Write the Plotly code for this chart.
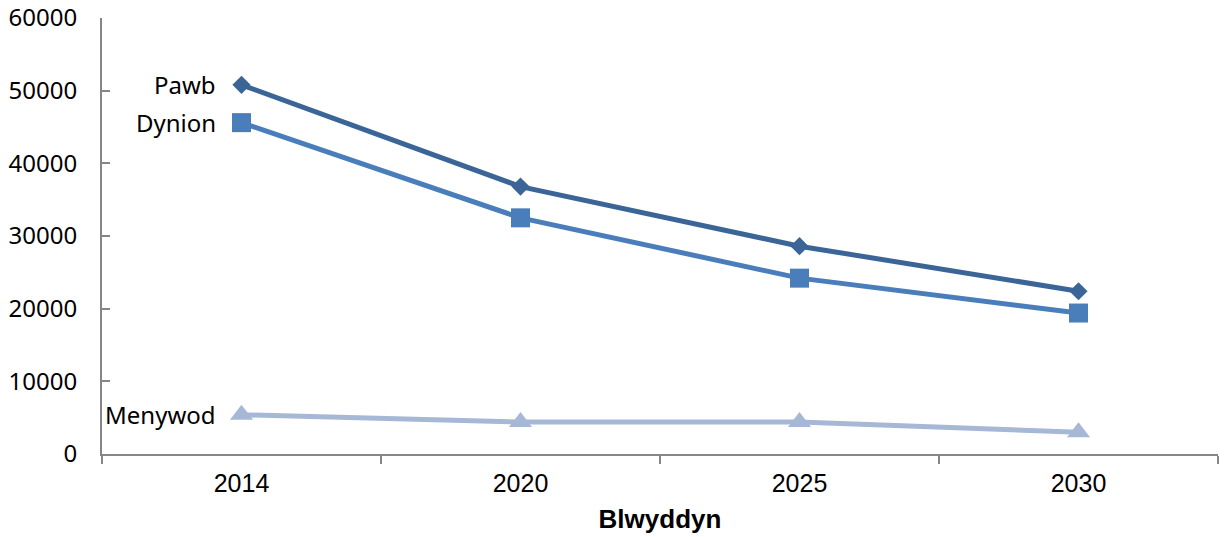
import plotly.graph_objects as go

years = ["2014", "2020", "2025", "2030"]
pawb = [50800, 36800, 28600, 22400]
dynion = [45600, 32500, 24200, 19400]
menywod = [5400, 4400, 4400, 3000]
series_names = ["Pawb", "Dynion", "Menywod"]

colors = ["#3B6597", "#4A7EBB", "#A6B8D6"]
symbols = ["diamond", "square", "triangle-up"]
sizes = [14, 19, 20]

fig = go.Figure()
for name, vals, c, s, sz in zip(series_names, [pawb, dynion, menywod], colors, symbols, sizes):
    fig.add_trace(go.Scatter(
        x=years, y=vals, mode="lines+markers", name=name,
        line=dict(color=c, width=5),
        marker=dict(symbol=s, size=sz, color=c, line=dict(width=0)),
        showlegend=False,
    ))
    fig.add_annotation(
        x=0, y=vals[0], text=name, showarrow=False,
        xanchor="right", yanchor="middle", xshift=-24,
        font=dict(family="Noto Sans", size=24, color="#000000"),
    )

fig.update_layout(
    width=1227, height=537,
    margin=dict(l=102, r=9, t=18, b=83),
    paper_bgcolor="white", plot_bgcolor="white",
    xaxis=dict(
        type="category", range=[-0.5, 3.5], automargin=False,
        tickson="boundaries", ticks="outside", ticklen=8, tickwidth=2, tickcolor="#868686",
        showline=True, linecolor="#868686", linewidth=2,
        showgrid=False, zeroline=False,
        tickfont=dict(family="Arial", size=25, color="#000000"),
        ticklabelstandoff=6,
        title=dict(text="<b>Blwyddyn</b>", font=dict(family="Arial", size=26, color="#000000"), standoff=14),
    ),
    yaxis=dict(
        range=[0, 60000], dtick=10000, tickformat="d", automargin=False,
        ticks="inside", ticklen=8, tickwidth=2, tickcolor="#868686",
        showline=True, linecolor="#868686", linewidth=2,
        showgrid=False, zeroline=False,
        tickfont=dict(family="Noto Sans", size=24, color="#000000"),
        ticklabelstandoff=18,
    ),
)

fig.write_html("out.html", config={"displayModeBar": False},
               post_script="document.body.style.margin='0px';")
